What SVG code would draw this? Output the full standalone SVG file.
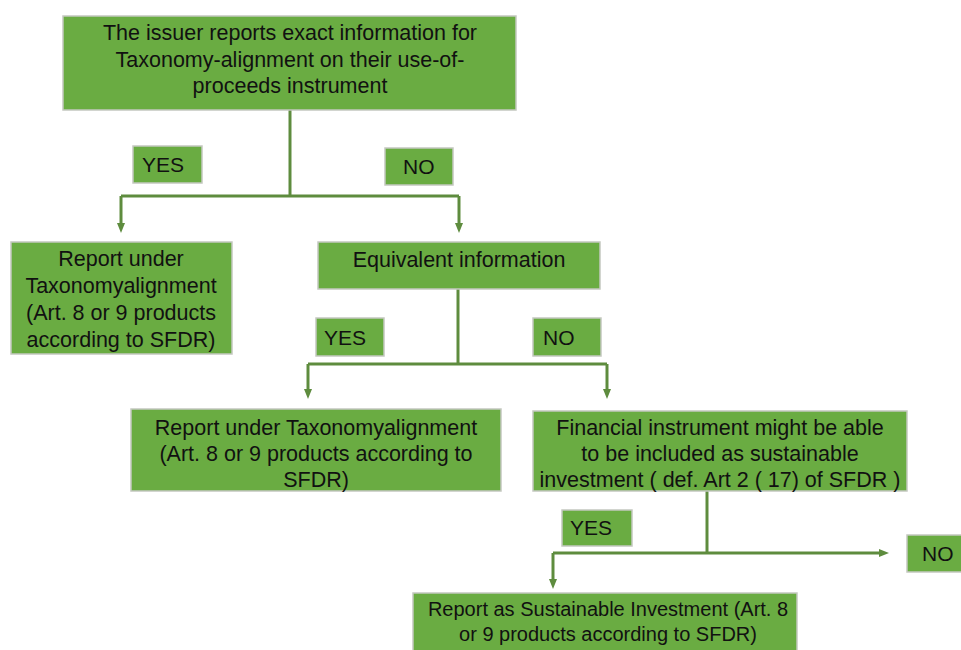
<svg xmlns="http://www.w3.org/2000/svg" width="961" height="650" viewBox="0 0 961 650">
  <defs>
    <marker id="arrow" markerWidth="10" markerHeight="10" refX="5" refY="5" orient="auto" markerUnits="userSpaceOnUse">
      <path d="M0,1 L10,5 L0,9 Z" fill="#5e8c3e"/>
    </marker>
  </defs>
  <style>
    .box { fill: #6aac42; stroke: #c4c8c0; stroke-width: 1.5; }
    .t { font-family: "Liberation Sans", Arial, sans-serif; font-size: 21.5px; fill: #111; text-anchor: middle; }
    .s { font-size: 20px; }
    .lbl { font-family: "Liberation Sans", Arial, sans-serif; font-size: 21px; fill: #111; }
    .conn { fill: none; stroke: #5e8c3e; stroke-width: 3; }
  </style>
  <rect width="961" height="650" fill="#ffffff"/>

  <!-- connectors -->
  <g id="connectors">
    <path class="conn" d="M290,110 V196"/>
    <path class="conn" d="M121,196 H459"/>
    <path class="conn" d="M121,196 V228" marker-end="url(#arrow)"/>
    <path class="conn" d="M459,196 V228" marker-end="url(#arrow)"/>

    <path class="conn" d="M458,289 V364"/>
    <path class="conn" d="M308,364 H607"/>
    <path class="conn" d="M308,364 V394" marker-end="url(#arrow)"/>
    <path class="conn" d="M607,364 V394" marker-end="url(#arrow)"/>

    <path class="conn" d="M707,491 V553"/>
    <path class="conn" d="M553,553 H884" marker-end="url(#arrow)"/>
    <path class="conn" d="M553,553 V584" marker-end="url(#arrow)"/>
  </g>

  <g id="start">
    <rect class="box" x="63" y="16" width="453" height="94"/>
    <text class="t" x="290" y="40">The issuer reports exact information for</text>
    <text class="t" x="290" y="67">Taxonomy-alignment on their use-of-</text>
    <text class="t" x="290" y="93">proceeds instrument</text>
  </g>

  <g id="yes1">
    <rect class="box" x="133" y="146" width="69" height="37"/>
    <text class="lbl" x="142" y="172">YES</text>
  </g>
  <g id="no1">
    <rect class="box" x="385" y="148" width="68" height="37"/>
    <text class="lbl" x="403" y="174">NO</text>
  </g>

  <g id="report1">
    <rect class="box" x="11" y="242" width="221" height="112"/>
    <text class="t" x="121" y="266">Report under</text>
    <text class="t" x="121" y="293">Taxonomyalignment</text>
    <text class="t" x="121" y="320">(Art. 8 or 9 products</text>
    <text class="t" x="121" y="347">according to SFDR)</text>
  </g>

  <g id="equivalent">
    <rect class="box" x="318" y="242" width="282" height="47"/>
    <text class="t" x="459" y="267">Equivalent information</text>
  </g>

  <g id="yes2">
    <rect class="box" x="316" y="318" width="68" height="38"/>
    <text class="lbl" x="324" y="345">YES</text>
  </g>
  <g id="no2">
    <rect class="box" x="533" y="318" width="68" height="38"/>
    <text class="lbl" x="543" y="345">NO</text>
  </g>

  <g id="report2">
    <rect class="box" x="131" y="409" width="370" height="82"/>
    <text class="t" x="316" y="435">Report under Taxonomyalignment</text>
    <text class="t" x="316" y="461">(Art. 8 or 9 products according to</text>
    <text class="t" x="316" y="487">SFDR)</text>
  </g>

  <g id="financial">
    <rect class="box" x="533" y="411" width="374" height="80"/>
    <text class="t" x="720" y="435">Financial instrument might be able</text>
    <text class="t" x="720" y="461">to be included as sustainable</text>
    <text class="t" x="720" y="487">investment ( def. Art 2 ( 17) of SFDR )</text>
  </g>

  <g id="yes3">
    <rect class="box" x="562" y="510" width="70" height="36"/>
    <text class="lbl" x="570" y="535">YES</text>
  </g>
  <g id="no3">
    <rect class="box" x="907" y="535" width="56" height="37"/>
    <text class="lbl" x="922" y="561">NO</text>
  </g>

  <g id="report3">
    <rect class="box" x="413" y="593" width="384" height="60"/>
    <text class="t s" x="608" y="616">Report as Sustainable Investment (Art. 8</text>
    <text class="t s" x="608" y="641">or 9 products according to SFDR)</text>
  </g>
</svg>
